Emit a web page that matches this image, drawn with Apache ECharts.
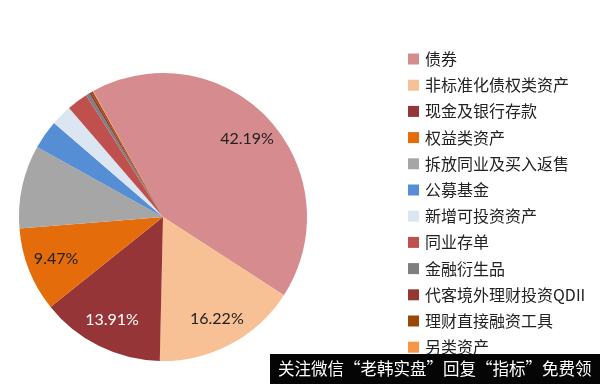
<!DOCTYPE html>
<html>
<head>
<meta charset="utf-8">
<script src="https://cdn.jsdelivr.net/npm/echarts@6/dist/echarts.min.js"></script>
<style>html,body{margin:0;padding:0;background:#fff}#c{width:600px;height:384px}</style>
</head>
<body>
<div id="c"></div>
<script>
var categories = ['债券','非标准化债权类资产','现金及银行存款','权益类资产','拆放同业及买入返售','公募基金','新增可投资资产','同业存单','金融衍生品','代客境外理财投资QDII','理财直接融资工具','另类资产'];
var values = [42.19, 16.22, 13.91, 9.47, 9.35, 3.25, 2.35, 2.35, 0.4, 0.25, 0.2, 0.06];
var labeled = ['42.19%', '16.22%', '13.91%', '9.47%'];
var colors = ['#D68C8E','#F8C195','#953537','#E46C0A','#A6A6A6','#558ED5','#DCE6F2','#C0504D','#7F7F7F','#953735','#984807','#F79646'];
var labelColors = ['#222','#222','#fff','#222'];
var watermark = '关注微信“老韩实盘”回复“指标”免费领';

var baseData = categories.map(function(n, i){
  return {name: n, value: values[i], itemStyle: {color: colors[i]}};
});
var overlayData = categories.map(function(n, i){
  return {
    name: n, value: values[i],
    itemStyle: {color: 'rgba(0,0,0,0)'},
    label: {show: i < labeled.length, formatter: labeled[i] || '', color: labelColors[i] || '#222'}
  };
});

var chart = echarts.init(document.getElementById('c'));
chart.setOption({
  animation: false,
  backgroundColor: '#fff',
  legend: {
    orient: 'vertical',
    left: 403, top: 46,
    itemWidth: 11, itemHeight: 11, itemGap: 10.2,
    icon: 'rect',
    data: categories,
    textStyle: {fontSize: 16, color: '#222', fontFamily: 'Noto Sans CJK SC', padding: [0,0,0,1]},
    selectedMode: false
  },
  series: [{
    type: 'pie',
    center: [163, 217],
    radius: [0, 144],
    startAngle: 119,
    clockwise: true,
    silent: true,
    label: {show: false},
    labelLine: {show: false},
    itemStyle: {borderColor: '#fff', borderWidth: 0},
    data: baseData
  }, {
    type: 'pie',
    center: [163, 217],
    radius: [80, 144],
    startAngle: 119,
    clockwise: true,
    silent: true,
    legendHoverLink: false,
    label: {position: 'inside', fontSize: 16, fontFamily: 'Lato'},
    labelLine: {show: false},
    data: overlayData
  }],
  graphic: [{
    type: 'rect', z: 100,
    shape: {x: 270, y: 354, width: 330, height: 30},
    style: {fill: '#050505'}
  }, {
    type: 'text', z: 101,
    x: 278, y: 369,
    style: {text: watermark, fill: '#fff', fontSize: 16.5, fontFamily: 'Noto Sans CJK SC', verticalAlign: 'middle'}
  }]
});
</script>
</body>
</html>
